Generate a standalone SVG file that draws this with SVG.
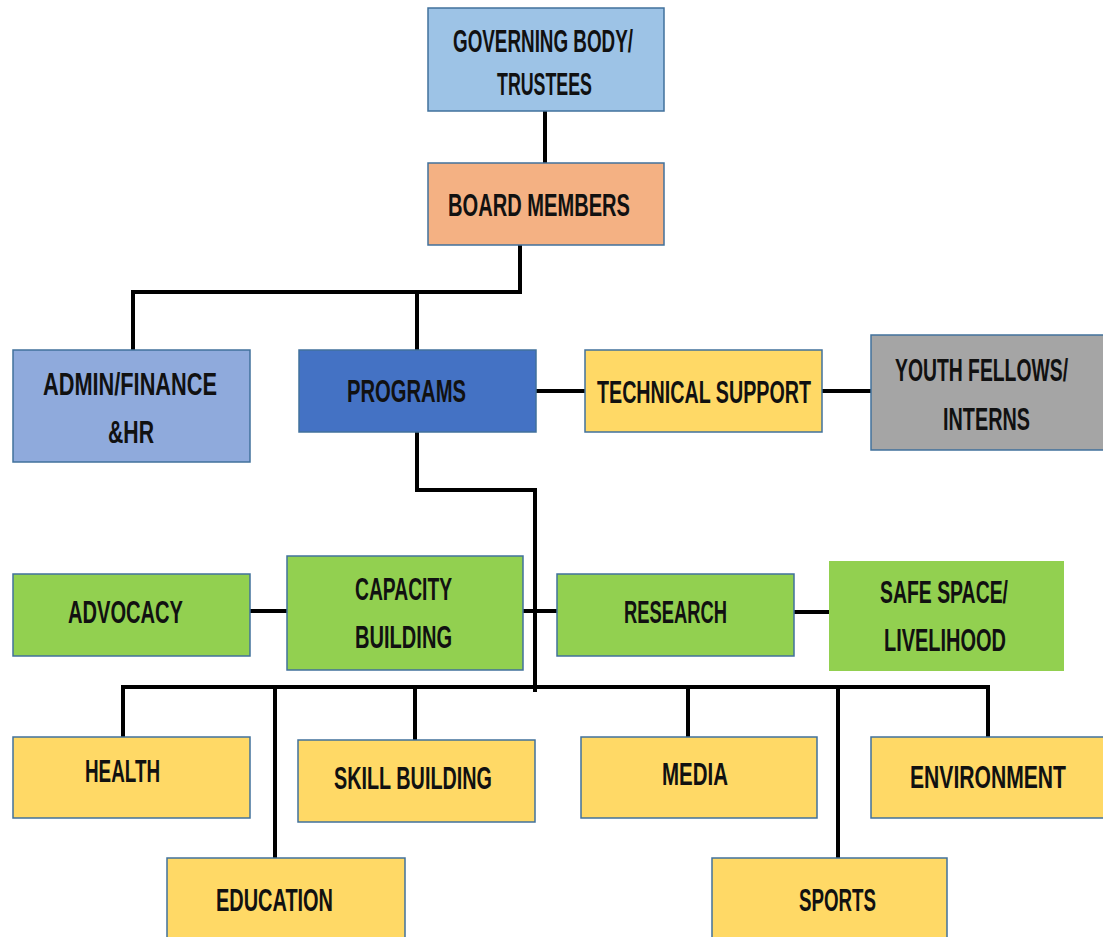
<svg xmlns="http://www.w3.org/2000/svg" width="1103" height="937" viewBox="0 0 1103 937">
<style>
.box{stroke:#41719C;stroke-width:1.5}
.t{font-family:"Liberation Sans",Arial,sans-serif;font-size:32px;font-weight:bold;fill:#111;text-anchor:start}
.c{fill:none;stroke:#000;stroke-width:4;stroke-linejoin:miter}
</style>
<rect width="1103" height="937" fill="#fff"/>
<g id="connectors">
<path class="c" d="M545 111V163"/>
<path class="c" d="M520 245V292H133V350" stroke-width="4.5"/>
<path class="c" d="M417 292V350"/>
<path class="c" d="M536 391H585"/>
<path class="c" d="M822 391H871"/>
<path class="c" d="M417 432V490H535V692"/>
<path class="c" d="M250 611H287" stroke-width="5"/>
<path class="c" d="M523 611H557"/>
<path class="c" d="M794 612H829"/>
<path class="c" d="M123 737V687H988V737"/>
<path class="c" d="M275 687V858"/>
<path class="c" d="M415 687V740"/>
<path class="c" d="M688 687V737"/>
<path class="c" d="M838 687V858"/>
</g>
<g id="governing">
<rect class="box" x="428" y="8" width="236" height="103" fill="#9DC3E6"/>
<text class="t" x="453" y="52" textLength="180" lengthAdjust="spacingAndGlyphs">GOVERNING BODY/</text>
<text class="t" x="497" y="95" textLength="95" lengthAdjust="spacingAndGlyphs">TRUSTEES</text>
</g>
<g id="board">
<rect class="box" x="428" y="163" width="236" height="82" fill="#F4B183"/>
<text class="t" x="448" y="216" textLength="182" lengthAdjust="spacingAndGlyphs">BOARD MEMBERS</text>
</g>
<g id="admin">
<rect class="box" x="13" y="350" width="237" height="112" fill="#8FAADC"/>
<text class="t" x="43" y="395" textLength="174" lengthAdjust="spacingAndGlyphs">ADMIN/FINANCE</text>
<text class="t" x="108" y="443" textLength="46" lengthAdjust="spacingAndGlyphs">&amp;HR</text>
</g>
<g id="programs">
<rect class="box" x="299" y="350" width="237" height="82" fill="#4472C4"/>
<text class="t" x="347" y="402" textLength="119" lengthAdjust="spacingAndGlyphs">PROGRAMS</text>
</g>
<g id="technical">
<rect class="box" x="585" y="350" width="237" height="82" fill="#FFD966"/>
<text class="t" x="597" y="403" textLength="214" lengthAdjust="spacingAndGlyphs">TECHNICAL  SUPPORT</text>
</g>
<g id="youth">
<rect class="box" x="871" y="335" width="234" height="115" fill="#A5A5A5"/>
<text class="t" x="895" y="381" textLength="173" lengthAdjust="spacingAndGlyphs">YOUTH  FELLOWS/</text>
<text class="t" x="943" y="430" textLength="87" lengthAdjust="spacingAndGlyphs">INTERNS</text>
</g>
<g id="advocacy">
<rect class="box" x="13" y="574" width="237" height="82" fill="#92D050"/>
<text class="t" x="68" y="623" textLength="115" lengthAdjust="spacingAndGlyphs">ADVOCACY</text>
</g>
<g id="capacity">
<rect class="box" x="287" y="556" width="236" height="114" fill="#92D050"/>
<text class="t" x="355" y="600" textLength="97" lengthAdjust="spacingAndGlyphs">CAPACITY</text>
<text class="t" x="355" y="648" textLength="97" lengthAdjust="spacingAndGlyphs">BUILDING</text>
</g>
<g id="research">
<rect class="box" x="557" y="574" width="237" height="82" fill="#92D050"/>
<text class="t" x="624" y="623" textLength="103" lengthAdjust="spacingAndGlyphs">RESEARCH</text>
</g>
<g id="safespace">
<rect x="829" y="561" width="235" height="110" fill="#92D050"/>
<text class="t" x="880" y="603" textLength="128" lengthAdjust="spacingAndGlyphs">SAFE SPACE/</text>
<text class="t" x="884" y="651" textLength="122" lengthAdjust="spacingAndGlyphs">LIVELIHOOD</text>
</g>
<g id="health">
<rect class="box" x="13" y="737" width="237" height="81" fill="#FFD966"/>
<text class="t" x="85" y="782" textLength="75" lengthAdjust="spacingAndGlyphs">HEALTH</text>
</g>
<g id="skill">
<rect class="box" x="298" y="740" width="237" height="82" fill="#FFD966"/>
<text class="t" x="334" y="789" textLength="158" lengthAdjust="spacingAndGlyphs">SKILL BUILDING</text>
</g>
<g id="media">
<rect class="box" x="581" y="737" width="236" height="81" fill="#FFD966"/>
<text class="t" x="662" y="785" textLength="66" lengthAdjust="spacingAndGlyphs">MEDIA</text>
</g>
<g id="environment">
<rect class="box" x="871" y="737" width="234" height="81" fill="#FFD966"/>
<text class="t" x="910" y="788" textLength="156" lengthAdjust="spacingAndGlyphs">ENVIRONMENT</text>
</g>
<g id="education">
<rect class="box" x="167" y="858" width="238" height="82" fill="#FFD966"/>
<text class="t" x="216" y="911" textLength="117" lengthAdjust="spacingAndGlyphs">EDUCATION</text>
</g>
<g id="sports">
<rect class="box" x="712" y="858" width="235" height="82" fill="#FFD966"/>
<text class="t" x="799" y="911" textLength="77" lengthAdjust="spacingAndGlyphs">SPORTS</text>
</g>
</svg>
